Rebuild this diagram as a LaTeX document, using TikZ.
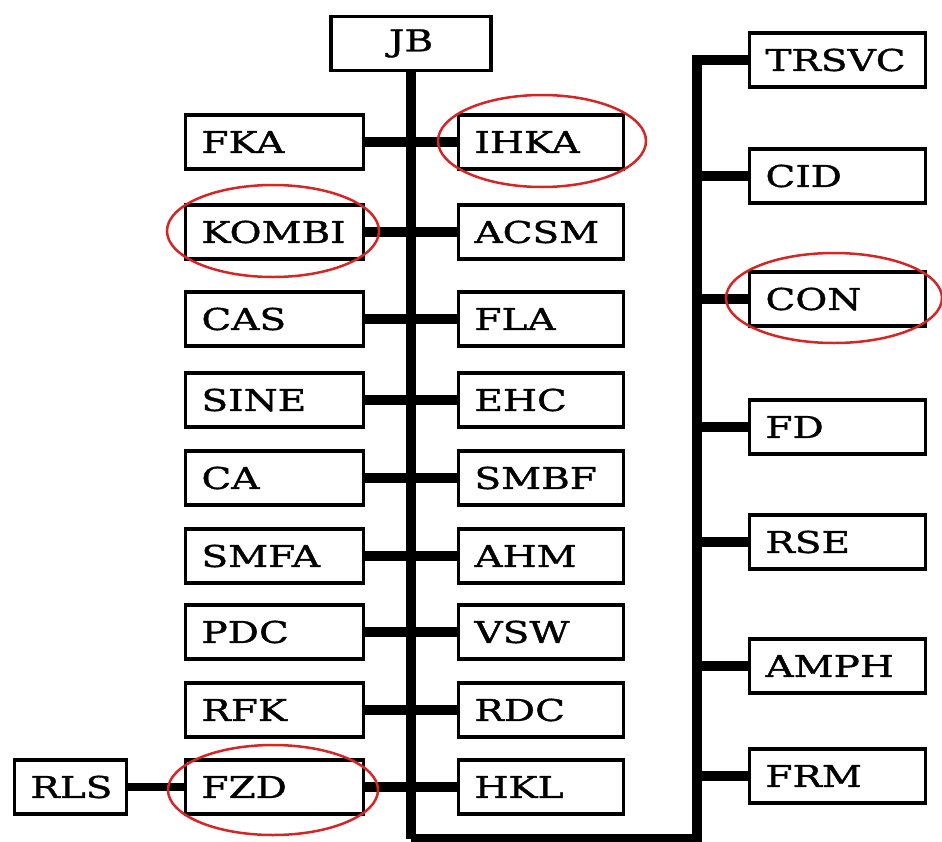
\documentclass[tikz,border=0pt]{standalone}
\usepackage{fontspec}
\setmainfont{DejaVu Serif}[FakeStretch=1.3, FakeBold=1.2]
\usetikzlibrary{positioning}
\definecolor{ringred}{RGB}{212,38,38}
\tikzset{
  blk/.style={draw, line width=3.5pt, minimum height=54pt, inner xsep=16pt,
    text width=#1, align=left, font=\fontsize{30}{32}\selectfont},
  link/.style={line width=10pt},
  ring/.style={draw=ringred, line width=2.5pt}
}

\begin{document}
\begin{tikzpicture}[x=1pt,y=-1pt]%[scale=2.5]
\useasboundingbox (0,0) rectangle (942,841);

\draw node (JB) at (411,43.5) [blk=128pt, align=center]{JB};
\draw node foreach \t/\y in {FKA/142,KOMBI/232,CAS/319,SINE/400,CA/478,SMFA/556,PDC/632,RFK/710,FZD/787}
  (\t) at (274.5,\y) [blk=146pt]{\t};
\draw node foreach \t/\y in {IHKA/142,ACSM/232,FLA/319,EHC/400,SMBF/478,AHM/556,VSW/632,RDC/710,HKL/787}
  (\t) at (541,\y) [blk=133pt]{\t};
\draw node foreach \t/\y in {TRSVC/60,CID/176,CON/299,FD/427,RSE/542,AMPH/666,FRM/776}
  (\t) at (837.5,\y) [blk=144pt]{\t};
\draw node (RLS) at (70.5,787) [blk=80pt]{RLS};

\coordinate (bl) at (411,839);
\coordinate (tr) at (697,60);
\coordinate (br) at (697,839);

% trunk and bus
\draw[link] (JB) -- (bl);
\draw[link] (TRSVC) -- (tr) -- (br) -- (bl);
\foreach \a/\b in {FKA/IHKA,KOMBI/ACSM,CAS/FLA,SINE/EHC,CA/SMBF,SMFA/AHM,PDC/VSW,RFK/RDC,FZD/HKL}
  \draw[link] (\a) -- (\b);
\foreach \t in {CID,CON,FD,RSE,AMPH,FRM}
  \draw[link] (\t) -- (\t -| tr);
\draw[line width=8pt] (RLS) -- (FZD);

% red marks
\draw[ring] (542,141) ellipse [x radius=104, y radius=46];
\draw[ring] (273,231) ellipse [x radius=106, y radius=46];
\draw[ring] (273,790) ellipse [x radius=105, y radius=45];
\draw[ring] (834,298) ellipse [x radius=108, y radius=45];
\end{tikzpicture}
\end{document}
